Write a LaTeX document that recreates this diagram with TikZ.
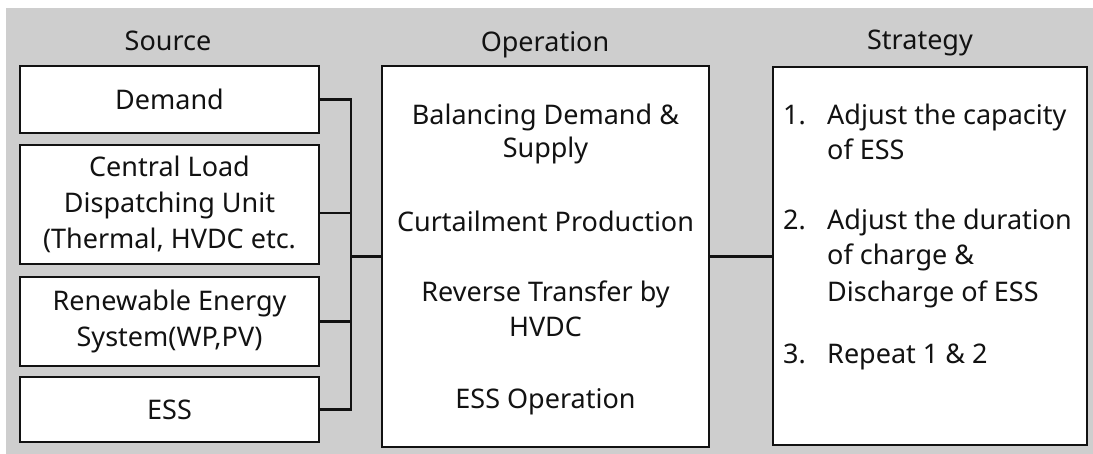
\documentclass[tikz,border=0pt]{standalone}
\usepackage{fontspec}
\setmainfont{Noto Sans}
\definecolor{bg}{RGB}{206,206,206}
\definecolor{ink}{RGB}{18,18,18}
\begin{document}
\begin{tikzpicture}[x=1pt,y=-1pt,
 box/.style={draw=ink, line width=2.6pt, fill=white, inner sep=0pt, align=center, font=\fontsize{27}{36}\selectfont, text=ink},
 txt/.style={inner sep=0pt, anchor=base, font=\fontsize{27}{36}\selectfont, text=ink},
 ltxt/.style={txt, anchor=base west},
 link/.style={draw=ink, line width=2.1pt}]
\useasboundingbox (0,0) rectangle (1093,454);
\fill[bg] (6,8) rectangle (1093,454);
% headings
\node[txt] (hs) at (168,51) {Source};
\node[txt] (ho) at (545,52) {Operation};
\node[txt] (hst) at (920,50) {Strategy};
% source boxes
\node[box, minimum width=299pt, minimum height=67pt] (dem) at (169.5,99.5) {Demand};
\node[box, minimum width=299pt, minimum height=119pt] (cen) at (169.5,204.5) {Central Load\\Dispatching Unit\\(Thermal, HVDC etc.};
\node[box, minimum width=299pt, minimum height=89pt] (ren) at (169.5,321.5) {Renewable Energy\\System(WP,PV)};
\node[box, minimum width=299pt, minimum height=65pt] (ess) at (169.5,409.5) {ESS};
% operation
\node[box, minimum width=327pt, minimum height=381pt] (op) at (545.5,256.5) {};
\node[txt] (o1) at (545.5,125) {Balancing Demand \&};
\node[txt] (o2) at (545.5,158) {Supply};
\node[txt] (o3) at (545.5,232) {Curtailment Production};
\node[txt] (o4) at (545.5,302) {Reverse Transfer by};
\node[txt] (o5) at (545.5,337) {HVDC};
\node[txt] (o6) at (545.5,408) {ESS Operation};
% strategy
\node[box, minimum width=314pt, minimum height=378pt] (st) at (930,256) {};
\node[ltxt] (n1) at (783,125) {1.};
\node[ltxt] (n2) at (783,230) {2.};
\node[ltxt] (n3) at (783,363) {3.};
\node[ltxt] (s1) at (827,125) {Adjust the capacity};
\node[ltxt] (s2) at (827,160) {of ESS};
\node[ltxt] (s3) at (827,230) {Adjust the duration};
\node[ltxt] (s4) at (827,265) {of charge \&};
\node[ltxt] (s5) at (827,302) {Discharge of ESS};
\node[ltxt] (s6) at (827,363) {Repeat 1 \& 2};
% connectors
\coordinate (bus) at (351,256.5);
\draw[link] (dem.east) -- (dem.east -| bus) -- (ess.east -| bus) -- (ess.east);
\draw[link] ([yshift=-8.5pt]cen.east) -- ([yshift=-8.5pt]cen.east -| bus);
\draw[link] (ren.east) -- (ren.east -| bus);
\draw[link] (bus) -- (op.west);
\draw[link] (op.east) -- (op.east -| st.west);
\end{tikzpicture}
\end{document}
